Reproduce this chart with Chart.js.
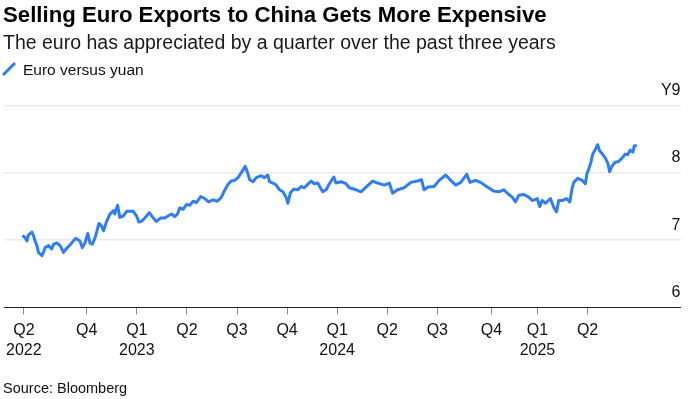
<!DOCTYPE html>
<html>
<head>
<meta charset="utf-8">
<script src="https://cdn.jsdelivr.net/npm/chart.js@4.4.1/dist/chart.umd.min.js"></script>
<style>
    body { margin: 0; background: #fff; font-family: 'Liberation Sans', Arial, sans-serif; color: #111; }
    #wrap { position: relative; width: 693px; height: 399px; overflow: hidden; }
    #chartBox { position: absolute; left: 0; top: 0; width: 693px; height: 399px; }
    .txt { position: absolute; white-space: nowrap; line-height: 1; }
    #title { left: 3px; top: 4.1px; font-size: 22.2px; font-weight: bold; color: #000; }
    #subtitle { left: 3px; top: 32.5px; font-size: 19.5px; color: #1a1a1a; }
    #legend { left: 23px; top: 62.2px; font-size: 15.5px; color: #111; }
    #legendIcon { position: absolute; left: 0; top: 60px; }
    #source { left: 3px; top: 381px; font-size: 14.5px; color: #111; }
</style>
</head>
<body>
<div id="wrap">
    <div id="chartBox"><canvas id="fxChart"></canvas></div>
    <div id="title" class="txt">Selling Euro Exports to China Gets More Expensive</div>
    <div id="subtitle" class="txt">The euro has appreciated by a quarter over the past three years</div>
    <svg id="legendIcon" width="20" height="20"><line x1="3" y1="15" x2="15" y2="3" stroke="#2f7ef5" stroke-width="3"/></svg>
    <div id="legend" class="txt">Euro versus yuan</div>
    <div id="source" class="txt">Source: Bloomberg</div>
</div>
<script>
// dates as decimal years, values in yuan per euro
const dates = [
    2022.429, 2022.442, 2022.451, 2022.459, 2022.476, 2022.484, 2022.492, 2022.501, 2022.509, 2022.526,
    2022.534, 2022.542, 2022.559, 2022.575, 2022.584, 2022.600, 2022.617, 2022.634, 2022.650, 2022.666,
    2022.683, 2022.695, 2022.716, 2022.728, 2022.741, 2022.755, 2022.766, 2022.778, 2022.794, 2022.811,
    2022.824, 2022.834, 2022.849, 2022.866, 2022.883, 2022.890, 2022.904, 2022.915, 2022.932, 2022.949,
    2022.982, 2022.999, 2023.010, 2023.023, 2023.040, 2023.062, 2023.077, 2023.098, 2023.119, 2023.139,
    2023.156, 2023.173, 2023.189, 2023.203, 2023.214, 2023.231, 2023.247, 2023.264, 2023.281, 2023.297,
    2023.319, 2023.339, 2023.358, 2023.380, 2023.402, 2023.422, 2023.438, 2023.455, 2023.471, 2023.488,
    2023.505, 2023.525, 2023.541, 2023.551, 2023.563, 2023.580, 2023.596, 2023.621, 2023.637, 2023.654,
    2023.662, 2023.679, 2023.696, 2023.712, 2023.729, 2023.745, 2023.754, 2023.767, 2023.784, 2023.804,
    2023.820, 2023.836, 2023.853, 2023.870, 2023.886, 2023.903, 2023.928, 2023.945, 2023.961, 2023.983,
    2023.994, 2024.019, 2024.044, 2024.061, 2024.094, 2024.119, 2024.144, 2024.177, 2024.202, 2024.235,
    2024.260, 2024.277, 2024.301, 2024.334, 2024.368, 2024.401, 2024.421, 2024.434, 2024.454, 2024.484,
    2024.509, 2024.542, 2024.567, 2024.592, 2024.617, 2024.647, 2024.663, 2024.691, 2024.716, 2024.750,
    2024.782, 2024.807, 2024.832, 2024.857, 2024.874, 2024.890, 2024.907, 2024.932, 2024.957, 2024.974,
    2024.999, 2025.011, 2025.023, 2025.040, 2025.065, 2025.081, 2025.095, 2025.106, 2025.123, 2025.144,
    2025.161, 2025.173, 2025.181, 2025.201, 2025.223, 2025.239, 2025.247, 2025.255, 2025.267, 2025.277,
    2025.289, 2025.300, 2025.310, 2025.322, 2025.339, 2025.352, 2025.360, 2025.372, 2025.388, 2025.405,
    2025.422, 2025.438, 2025.450, 2025.463, 2025.476, 2025.483, 2025.496
];

const euroYuan = [
    7.07, 7.04, 6.99, 7.08, 7.12, 7.07, 6.99, 6.92, 6.82, 6.77,
    6.82, 6.89, 6.92, 6.87, 6.94, 6.96, 6.92, 6.82, 6.88, 6.93,
    6.99, 7.03, 6.99, 6.89, 6.96, 7.10, 6.96, 6.94, 7.06, 7.25,
    7.21, 7.14, 7.28, 7.39, 7.44, 7.39, 7.52, 7.34, 7.36, 7.43,
    7.43, 7.36, 7.27, 7.28, 7.33, 7.41, 7.35, 7.28, 7.33, 7.33,
    7.36, 7.39, 7.35, 7.39, 7.48, 7.46, 7.53, 7.52, 7.58, 7.56,
    7.65, 7.62, 7.57, 7.60, 7.58, 7.64, 7.74, 7.83, 7.88, 7.89,
    7.93, 8.02, 8.10, 8.02, 7.90, 7.87, 7.93, 7.96, 7.93, 7.97,
    7.87, 7.85, 7.82, 7.75, 7.72, 7.64, 7.55, 7.71, 7.76, 7.75,
    7.80, 7.78, 7.83, 7.88, 7.84, 7.85, 7.72, 7.75, 7.84, 7.94,
    7.85, 7.87, 7.84, 7.78, 7.75, 7.72, 7.79, 7.88, 7.85, 7.82,
    7.85, 7.70, 7.75, 7.78, 7.86, 7.88, 7.90, 7.75, 7.79, 7.80,
    7.89, 7.97, 7.89, 7.82, 7.86, 7.98, 7.86, 7.89, 7.86, 7.79,
    7.73, 7.72, 7.75, 7.68, 7.64, 7.57, 7.67, 7.68, 7.64, 7.59,
    7.62, 7.50, 7.59, 7.55, 7.62, 7.49, 7.42, 7.59, 7.59, 7.62,
    7.57, 7.77, 7.86, 7.92, 7.89, 7.84, 7.99, 8.05, 8.16, 8.29,
    8.35, 8.42, 8.33, 8.29, 8.22, 8.14, 8.02, 8.10, 8.16, 8.17,
    8.22, 8.28, 8.27, 8.34, 8.31, 8.40, 8.41
];

const tickValues = [2022.436, 2022.75, 2023, 2023.25, 2023.5, 2023.75, 2024, 2024.25, 2024.5, 2024.77, 2025, 2025.25];
const tickLabels = [['Q2', '2022'], 'Q4', ['Q1', '2023'], 'Q2', 'Q3', 'Q4', ['Q1', '2024'], 'Q2', 'Q3', 'Q4', ['Q1', '2025'], 'Q2'];

const FONT = "'Liberation Sans', Arial, sans-serif";

new Chart(document.getElementById('fxChart'), {
    type: 'line',
    data: {
        datasets: [{
            label: 'Euro versus yuan',
            data: dates.map((d, i) => ({ x: d, y: euroYuan[i] })),
            borderColor: '#2f7ef5',
            borderWidth: 3,
            borderJoinStyle: 'round',
            pointRadius: 0,
            tension: 0,
            fill: false
        }]
    },
    options: {
        responsive: true,
        maintainAspectRatio: false,
        animation: false,
        layout: {
            padding: { left: 2.5, right: 12.5, top: 105.7, bottom: 32.5 }
        },
        plugins: {
            legend: { display: false },
            title: { display: false },
            tooltip: { enabled: false }
        },
        scales: {
            x: {
                type: 'linear',
                min: 2022.339,
                max: 2025.714,
                afterBuildTicks: scale => {
                    scale.ticks = tickValues.map(v => ({ value: v }));
                },
                grid: {
                    drawOnChartArea: false,
                    drawTicks: true,
                    tickLength: 7,
                    color: '#8a8a8a'
                },
                border: { display: true, color: '#222', width: 1 },
                ticks: {
                    autoSkip: false,
                    maxRotation: 0,
                    padding: 6,
                    color: '#111',
                    font: { family: FONT, size: 16, lineHeight: 1.25 },
                    callback: (value, index) => tickLabels[index]
                }
            },
            y: {
                position: 'right',
                min: 6,
                max: 9,
                grid: {
                    drawTicks: false,
                    lineWidth: 1.5,
                    color: ctx => (ctx.tick && ctx.tick.value === 6) ? 'rgba(0,0,0,0)' : '#ebebeb'
                },
                border: { display: false },
                ticks: {
                    stepSize: 1,
                    mirror: true,
                    padding: 0,
                    labelOffset: -15,
                    color: '#111',
                    font: { family: FONT, size: 16 },
                    callback: value => value === 9 ? 'Y9' : value
                }
            }
        }
    }
});
</script>
</body>
</html>
